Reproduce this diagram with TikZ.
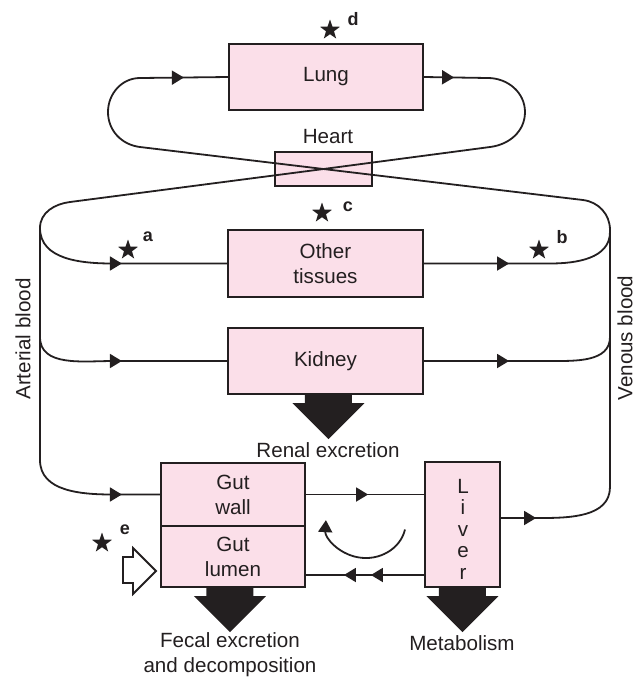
\documentclass[tikz,border=0pt]{standalone}
\usepackage{fontspec}
\setmainfont{Liberation Sans}
\usepackage{xcolor}
\usepackage{tikz}
\usetikzlibrary{arrows.meta,positioning,shapes.geometric,calc,decorations.markings}

\definecolor{pinkfill}{RGB}{251,223,233}
\definecolor{inkline}{RGB}{35,31,32}

\newcommand{\organfont}{\fontsize{10.3}{12.5}\selectfont}
\newcommand{\dropArrow}[1]{\fill[inkline] (#1) ++(-23.5,0) -- ++(47,0) -- ++(0,-8) -- ++(12.5,0) -- ++(-36,-36) -- ++(-36,36) -- ++(12.5,0) -- cycle;}

\begin{document}
\begin{tikzpicture}[x=0.5pt, y=0.5pt, color=inkline, every node/.style={font=\organfont, text=inkline},
    organ/.style={draw=inkline, fill=pinkfill, line width=1.1pt, inner sep=0pt, align=center},
    flow/.style={draw=inkline, line width=0.9pt},
    tipat/.style={postaction={decorate, decoration={markings, mark=at position #1 with {\arrow{Triangle[length=6pt,width=7pt]}}}}},
    starmark/.style={star, star points=5, star point ratio=2.5, fill=inkline, inner sep=0pt, minimum size=10.5pt},
    tag/.style={font=\fontsize{9}{10}\selectfont\bfseries}]
    \useasboundingbox (0,0) rectangle (634,-677);

    \node[organ, minimum width=97pt, minimum height=33pt] (lung) at (326,-77) {Lung};
    \node[organ, minimum width=48.5pt, minimum height=17pt] (heart) at (323.5,-169) {};
    \node (heartlab) at (328,-137) {Heart};
    \node[organ, minimum width=97.5pt, minimum height=33.5pt] (other) at (325.5,-263.5) {Other\\tissues};
    \node[organ, minimum width=97.5pt, minimum height=33pt] (kidney) at (325.5,-361) {Kidney};
    \node[organ, minimum width=72pt, minimum height=31.5pt] (gutwall) at (233,-494.5) {Gut\\wall};
    \node[organ, minimum width=72pt, minimum height=30.5pt] (gutlumen) at (233,-556.5) {Gut\\lumen};
    \node[organ, minimum width=37.5pt, minimum height=62.5pt] (liver) at (462.5,-524.5) {};
    \node[align=center, font=\fontsize{10.3}{10.75}\selectfont] (livertext) at (463,-529) {L\\i\\v\\e\\r};

    \coordinate (artTop) at (40,-228);
    \coordinate (artKid) at (40,-337);
    \coordinate (venTop) at (610,-232);
    \coordinate (venKid) at (610,-337);
    \coordinate (liverout) at ($(liver.east)+(0,6.5)$);
    \coordinate (liverback) at ($(liver.west)+(0,-50.5)$);

    \draw[flow, tipat=15pt, tipat=-19pt] (lung.east) -- (488,-78) to[out=0,in=90] (525,-112) to[out=-90,in=7] (490,-147) -- (heart.center) -- (70,-202) to[out=187,in=90] (artTop) -- (40,-460) to[out=-90,in=180] (113,-494.5) -- (gutwall.west);
    \draw[flow, tipat=17.5pt, tipat=-22pt] (liverout) -- (540,-518) to[out=0,in=-90] (610,-487) -- (venTop) -- (610,-230) to[out=90,in=-7] (583,-200) -- (heart.center) -- (140,-147) to[out=173,in=-90] (108,-112) to[out=90,in=180] (140,-78) -- (lung.west);

    \draw[flow, tipat=-52.5pt] (artTop) to[out=-90,in=180] (113,-263.5) -- (other.west);
    \draw[flow, tipat=42.5pt] (other.east) -- (550,-263.5) to[out=0,in=-90] (venTop);
    \draw[flow, tipat=-52.5pt] (artKid) to[out=-90,in=180] (113,-361) -- (kidney.west);
    \draw[flow, tipat=42.5pt] (kidney.east) -- (550,-361) to[out=0,in=-90] (venKid);
    \draw[flow, tipat=31pt] (gutwall.east) -- (gutwall.east -| liver.west);
    \draw[flow, tipat=26.5pt, tipat=40pt] (liverback) -- (liverback -| gutlumen.east);
    \draw[flow, -{Triangle[length=6pt,width=7pt]}] (405,-529.5) arc[start angle=-12, end angle=-183, x radius=40, y radius=36];

    \dropArrow{$(kidney.south)+(3,0)$}
    \dropArrow{$(gutlumen.south)+(-3,0)$}
    \dropArrow{liver.south}
    \draw[line width=0.9pt, fill=white] (123,-557) -- (133,-557) -- (133,-548) -- (156,-571) -- (133,-594) -- (133,-583) -- (123,-583) -- cycle;

    \node[starmark] (stard) at (330,-30) {};
    \node[tag] (tagd) at (353,-19) {d};
    \node[starmark] (starc) at (322,-213) {};
    \node[tag] (tagc) at (348,-207) {c};
    \node[starmark] (stara) at (128,-250) {};
    \node[tag] (taga) at (148,-237) {a};
    \node[starmark] (starb) at (539,-250) {};
    \node[tag] (tagb) at (562,-237) {b};
    \node[starmark] (stare) at (102,-543) {};
    \node[tag] (tage) at (125,-530) {e};

    \node (renal) at (328,-450) {Renal excretion};
    \node[align=center] (fecal) at (230,-655) {Fecal excretion\\and decomposition};
    \node (metab) at (462,-643) {Metabolism};
    \node[rotate=90] (artlab) at (23,-339) {Arterial blood};
    \node[rotate=90] (venlab) at (625,-338) {Venous blood};
\end{tikzpicture}
\end{document}
